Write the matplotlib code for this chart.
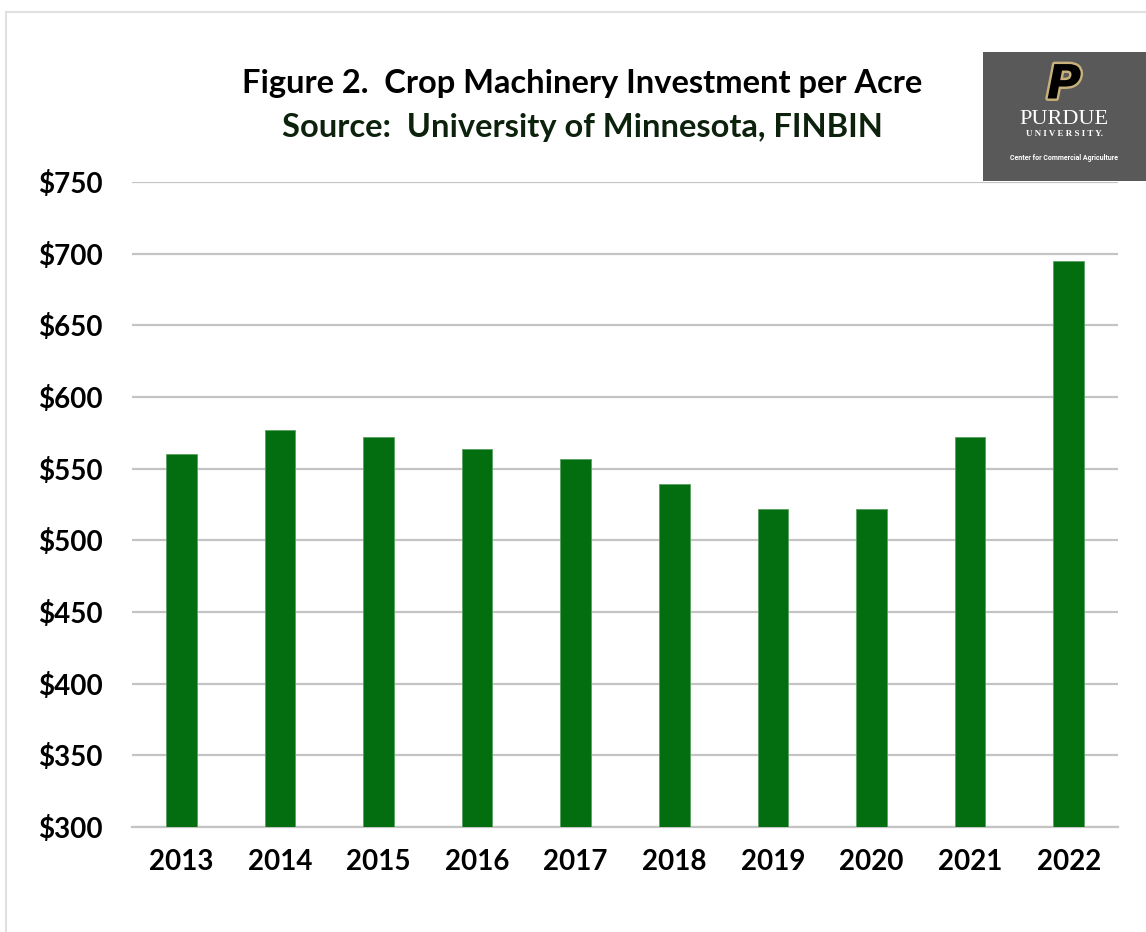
import matplotlib
matplotlib.use('Agg')
import matplotlib.pyplot as plt
import matplotlib.patheffects as pe
from matplotlib.patches import Rectangle
from matplotlib.lines import Line2D

years = ['2013', '2014', '2015', '2016', '2017', '2018', '2019', '2020', '2021', '2022']
investment = [560, 577, 572, 564, 557, 539, 522, 522, 572, 695]
yticks = [300, 350, 400, 450, 500, 550, 600, 650, 700, 750]

plt.rcParams['font.family'] = ['Lato', 'DejaVu Sans']

W, H = 1146, 932
fig = plt.figure(figsize=(W / 100, H / 100), dpi=100)

# axes placed by pixel
ax = fig.add_axes([132 / W, 1 - 827 / H, (1118 - 132) / W, (827 - 182) / H])
x = range(len(years))
ax.bar(x, investment, width=0.31, color='#036e0f', edgecolor='#5aa060', linewidth=0.6, zorder=3)
ax.set_xlim(-0.5, len(years) - 0.5)
ax.set_ylim(300, 750)
ax.set_yticks(yticks)
ax.set_yticklabels(['$%d' % v for v in yticks], fontsize=20, fontweight='bold')
ax.set_xticks(list(x))
ax.set_xticklabels(years, fontsize=20, fontweight='bold')
ax.yaxis.grid(True, color='#c4c4c4', linewidth=1.6, zorder=0)
for s in ['top', 'right', 'left']:
    ax.spines[s].set_visible(False)
ax.spines['bottom'].set_color('#c4c4c4')
ax.spines['bottom'].set_linewidth(1.6)
ax.tick_params(axis='both', length=0)
ax.tick_params(axis='y', pad=21)
ax.tick_params(axis='x', pad=16)

# title lines
fig.text(582 / W, 1 - 84 / H, 'Figure 2.  Crop Machinery Investment per Acre',
         ha='center', va='center', fontsize=23.5, fontweight='bold', color='black')
fig.text(582 / W, 1 - 128 / H, 'Source:  University of Minnesota, FINBIN',
         ha='center', va='center', fontsize=23.5, fontweight='bold', color='#0c220c')

# light frame
fig.add_artist(Line2D([6 / W, 6 / W], [0, 1 - 12 / H], transform=fig.transFigure,
                      color='#e0e0e0', linewidth=1.5))
fig.add_artist(Line2D([6 / W, 1], [1 - 12 / H, 1 - 12 / H], transform=fig.transFigure,
                      color='#e0e0e0', linewidth=1.5))

# Purdue logo box
fig.add_artist(Rectangle((983 / W, 1 - 181 / H), (W - 983) / W, (181 - 52) / H,
                         transform=fig.transFigure, facecolor='#595959', edgecolor='none'))
fig.text(1064 / W, 1 - 86 / H, 'P', ha='center', va='center', fontsize=34, fontweight='heavy',
         style='italic', family='DejaVu Sans', color='black',
         path_effects=[pe.withStroke(linewidth=3.5, foreground='#c8b07a')])
fig.text(1064 / W, 1 - 119 / H, 'PURDUE', ha='center', va='center', fontsize=16,
         family='Liberation Serif', color='white')
fig.text(1064 / W, 1 - 134 / H, 'U N I V E R S I T Y.', ha='center', va='center', fontsize=6.5,
         family='Liberation Serif', fontweight='bold', color='white')
fig.text(1064 / W, 1 - 158 / H, 'Center for Commercial Agriculture', ha='center', va='center',
         fontsize=5, family='Roboto', fontweight='bold', color='white')

fig.savefig('out.png', dpi=100)
